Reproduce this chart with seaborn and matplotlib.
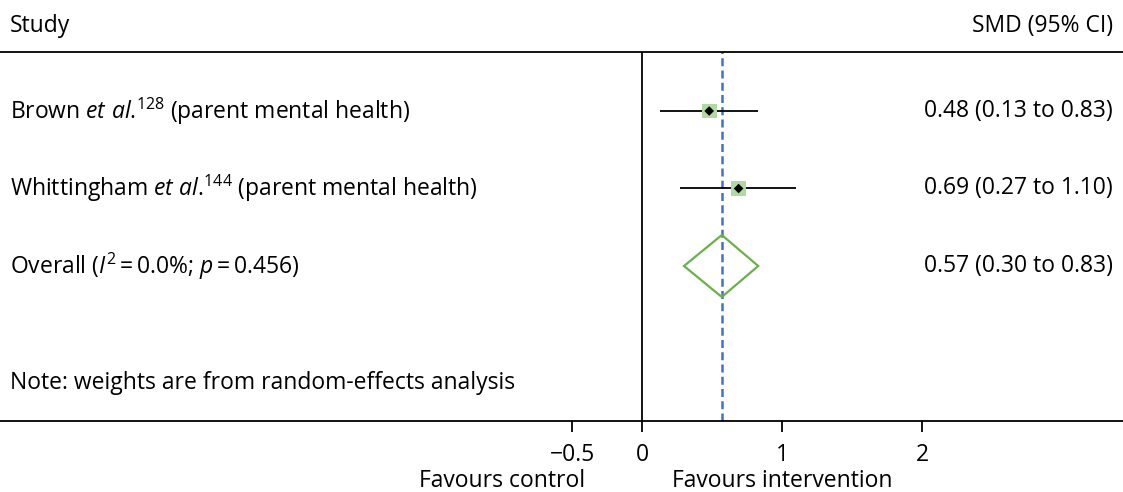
import numpy as np
import pandas as pd
import matplotlib
matplotlib.use("Agg")
import matplotlib.pyplot as plt
import matplotlib.transforms as mtransforms
import seaborn as sns

# study rows
studies = ["Brown", "Whittingham"]
refs = ["128", "144"]
smd = [0.48, 0.69]
ci_low = [0.13, 0.27]
ci_high = [0.83, 1.10]

# pooled estimate
overall_smd = 0.57
overall_low = 0.30
overall_high = 0.83
i2 = "0.0"
p_val = "0.456"

ticks = [-0.5, 0, 1, 2]
tick_labels = ["\u22120.5", "0", "1", "2"]

sns.set_theme(style="white")
plt.rcParams["font.family"] = ["Open Sans", "DejaVu Sans"]
plt.rcParams["mathtext.fontset"] = "custom"
plt.rcParams["mathtext.rm"] = "Open Sans"
plt.rcParams["mathtext.it"] = "Open Sans:italic"
plt.rcParams["text.color"] = "black"
plt.rcParams["xtick.color"] = "black"

FS = 16.5
fig = plt.figure(figsize=(11.23, 4.92), dpi=100)
ax = fig.add_axes([0, 1 - 421 / 492, 1, (421 - 52) / 492])

# x in effect units: 0 at px 642, 140 px per unit
ax.set_xlim(-642 / 140, (1123 - 642) / 140)
ax.set_ylim(5.0, (52 - 33.5) / 77.5)

df = pd.DataFrame({"study": studies, "smd": smd, "lo": ci_low, "hi": ci_high,
                   "row": np.arange(1, len(studies) + 1)})

ax.axvline(0, color="black", lw=1.3, zorder=1)
ax.axvline(overall_smd, color="#4472c4", lw=1.8, ls=(0, (3.2, 1.7)), zorder=1)

ax.hlines(df["row"], df["lo"], df["hi"], color="black", lw=1.3, zorder=2)
sns.scatterplot(data=df, x="smd", y="row", marker="s", s=115, color="#b2d8a3",
                edgecolor="none", ax=ax, zorder=3)
sns.scatterplot(data=df, x="smd", y="row", marker="D", s=24, color="black",
                edgecolor="none", ax=ax, zorder=4)

orow = len(studies) + 1
ax.fill([overall_low, overall_smd, overall_high, overall_smd],
        [orow, orow - 0.4, orow, orow + 0.4], facecolor="none",
        edgecolor="#6ab04c", lw=1.6, zorder=3)

blend = mtransforms.blended_transform_factory(ax.transAxes, ax.transData)

for i, r in df.iterrows():
    ax.text(0.009, r["row"],
            r["study"] + r" $\mathit{et\ al}$." + "$^{" + refs[i] + "}$ (parent mental health)",
            transform=blend, ha="left", va="center", fontsize=FS)
    ax.text(0.991, r["row"], f"{r['smd']:.2f} ({r['lo']:.2f} to {r['hi']:.2f})",
            transform=blend, ha="right", va="center", fontsize=FS)

ax.text(0.009, orow, r"Overall ($I^2$" + "\u2009=\u2009" + i2 + r"%; $p$" + "\u2009=\u2009" + p_val + ")",
        transform=blend, ha="left", va="center", fontsize=FS)
ax.text(0.991, orow, f"{overall_smd:.2f} ({overall_low:.2f} to {overall_high:.2f})",
        transform=blend, ha="right", va="center", fontsize=FS)
ax.text(0.009, 4.51, "Note: weights are from random-effects analysis",
        transform=blend, ha="left", va="center", fontsize=FS)

# headers
ax.text(0.009, 1.07, "Study", transform=ax.transAxes, ha="left", va="center", fontsize=FS)
ax.text(0.991, 1.07, "SMD (95% CI)", transform=ax.transAxes, ha="right", va="center", fontsize=FS)

# axis
for s in ["left", "right"]:
    ax.spines[s].set_visible(False)
for s in ["top", "bottom"]:
    ax.spines[s].set_color("black")
    ax.spines[s].set_linewidth(1.3)
ax.set_yticks([])
ax.set_xticks(ticks)
ax.set_xticklabels(tick_labels, fontsize=FS)
ax.tick_params(axis="x", bottom=True, direction="out", length=8, width=1.3,
               color="black", pad=8)
ax.set_xlabel("")
ax.set_ylabel("")

xb = mtransforms.blended_transform_factory(ax.transData, ax.transAxes)
ax.text(-1.0, -0.162, "Favours control", transform=xb, ha="center", va="center", fontsize=FS)
ax.text(1.0, -0.162, "Favours intervention", transform=xb, ha="center", va="center", fontsize=FS)

fig.savefig("out.png", dpi=100)
